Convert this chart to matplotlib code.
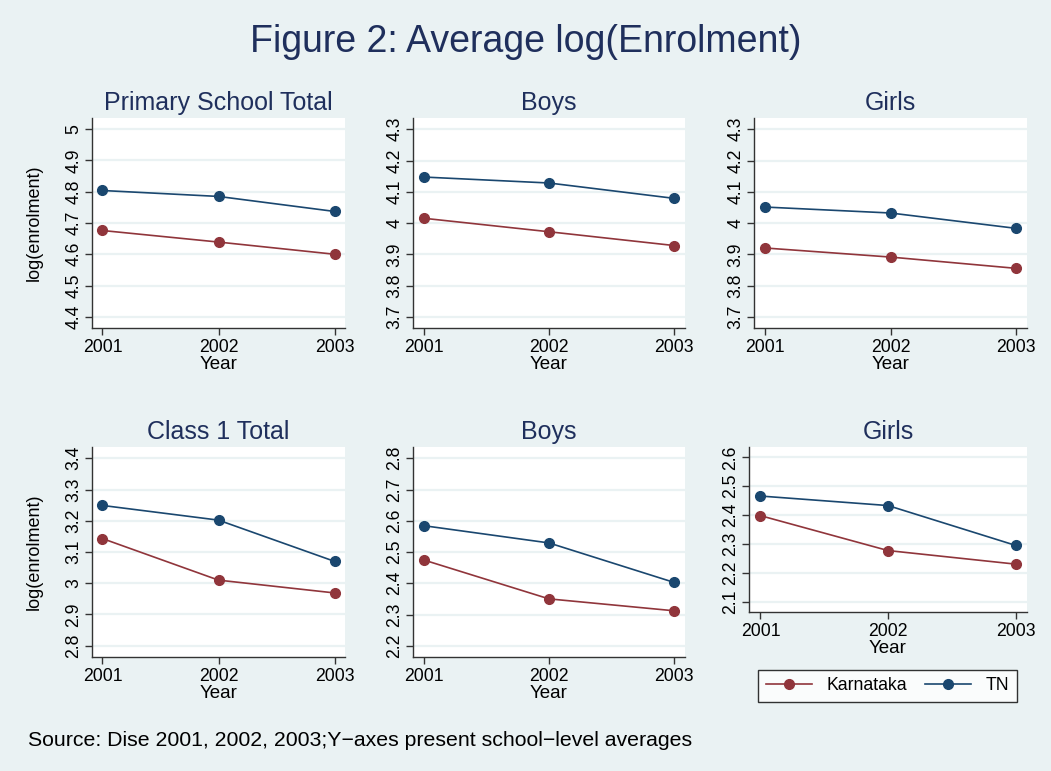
import matplotlib.pyplot as plt
from matplotlib.lines import Line2D

plt.rcParams['font.family'] = ['Liberation Sans', 'DejaVu Sans']

# data
years = [2001, 2002, 2003]
titles = ["Primary School Total", "Boys", "Girls", "Class 1 Total", "Boys", "Girls"]
karnataka = [
    [4.676, 4.639, 4.600],
    [4.015, 3.972, 3.928],
    [3.920, 3.891, 3.855],
    [3.143, 3.010, 2.969],
    [2.474, 2.350, 2.312],
    [2.398, 2.277, 2.230],
]
tn = [
    [4.804, 4.785, 4.737],
    [4.147, 4.128, 4.079],
    [4.051, 4.032, 3.983],
    [3.249, 3.202, 3.070],
    [2.584, 2.529, 2.403],
    [2.466, 2.433, 2.295],
]
yticks = [
    [4.4, 4.5, 4.6, 4.7, 4.8, 4.9, 5.0],
    [3.7, 3.8, 3.9, 4.0, 4.1, 4.2, 4.3],
    [3.7, 3.8, 3.9, 4.0, 4.1, 4.2, 4.3],
    [2.8, 2.9, 3.0, 3.1, 3.2, 3.3, 3.4],
    [2.2, 2.3, 2.4, 2.5, 2.6, 2.7, 2.8],
    [2.1, 2.2, 2.3, 2.4, 2.5, 2.6],
]
series_names = ["Karnataka", "TN"]

bg = '#eaf2f3'
navy = '#1a476f'
maroon = '#90353b'
titlecol = '#1f2f5c'

W, H = 1051, 771
fig = plt.figure(figsize=(W / 100, H / 100), dpi=100, facecolor=bg)

# axes boxes in pixels: left, top, right, bottom
boxes = [
    (92, 118, 345, 328), (413, 118, 685, 328), (754, 118, 1027, 328),
    (92, 447, 345, 657), (413, 447, 685, 657), (749, 447, 1027, 612),
]

for i, (l, t, r, b) in enumerate(boxes):
    ax = fig.add_axes([l / W, 1 - b / H, (r - l) / W, (b - t) / H])
    ax.set_facecolor('white')
    tk = yticks[i]
    ax.set_yticks(tk)
    ax.set_yticklabels([f"{v:g}" for v in tk], rotation=90, va='center')
    pad = 0.036
    ax.set_ylim(tk[0] - pad, tk[-1] + pad)
    ax.set_xlim(2000.91, 2003.09)
    ax.set_xticks(years)
    ax.set_xticklabels([str(y) for y in years])
    ax.grid(axis='y', color=bg, linewidth=1.6)
    ax.set_axisbelow(True)
    for s in ['top', 'right']:
        ax.spines[s].set_visible(False)
    for s in ['left', 'bottom']:
        ax.spines[s].set_color('#333333')
        ax.spines[s].set_linewidth(1.0)
    ax.tick_params(axis='both', labelsize=12.7, length=5, width=1, color='#333333', direction='out')
    ax.tick_params(axis='y', pad=2)
    ax.tick_params(axis='x', pad=3)

    ax.plot(years, karnataka[i], color=maroon, marker='o', markersize=7, linewidth=1.2,
            label=series_names[0])
    ax.plot(years, tn[i], color=navy, marker='o', markersize=7, linewidth=1.2,
            label=series_names[1])

    ax.set_title(titles[i], fontsize=18, color=titlecol, pad=6)
    ax.set_xlabel("Year", fontsize=13.5, labelpad=0)
    if i in (0, 3):
        ax.set_ylabel("log(enrolment)", fontsize=13, labelpad=16)

fig.text(0.5, 1 - 42 / H, "Figure 2: Average log(Enrolment)", fontsize=27,
         color=titlecol, ha='center', va='center')
fig.text(28 / W, 1 - 740 / H,
         "Source: Dise 2001, 2002, 2003;Y\u2212axes present school\u2212level averages",
         fontsize=15.3, ha='left', va='center')

handles = [
    Line2D([], [], color=maroon, marker='o', markersize=7, linewidth=1.2),
    Line2D([], [], color=navy, marker='o', markersize=7, linewidth=1.2),
]
leg = fig.legend(handles, series_names, ncol=2, loc='center',
                 bbox_to_anchor=(((754 + 1021) / 2) / W, 1 - 686 / H),
                 fontsize=12.7, frameon=True, fancybox=False, edgecolor='black',
                 handlelength=2.6, handletextpad=0.85, columnspacing=1.0,
                 borderpad=0.45)
leg.get_frame().set_linewidth(1.0)
leg.get_frame().set_facecolor('white')

fig.savefig("out.png", dpi=100, facecolor=bg)
